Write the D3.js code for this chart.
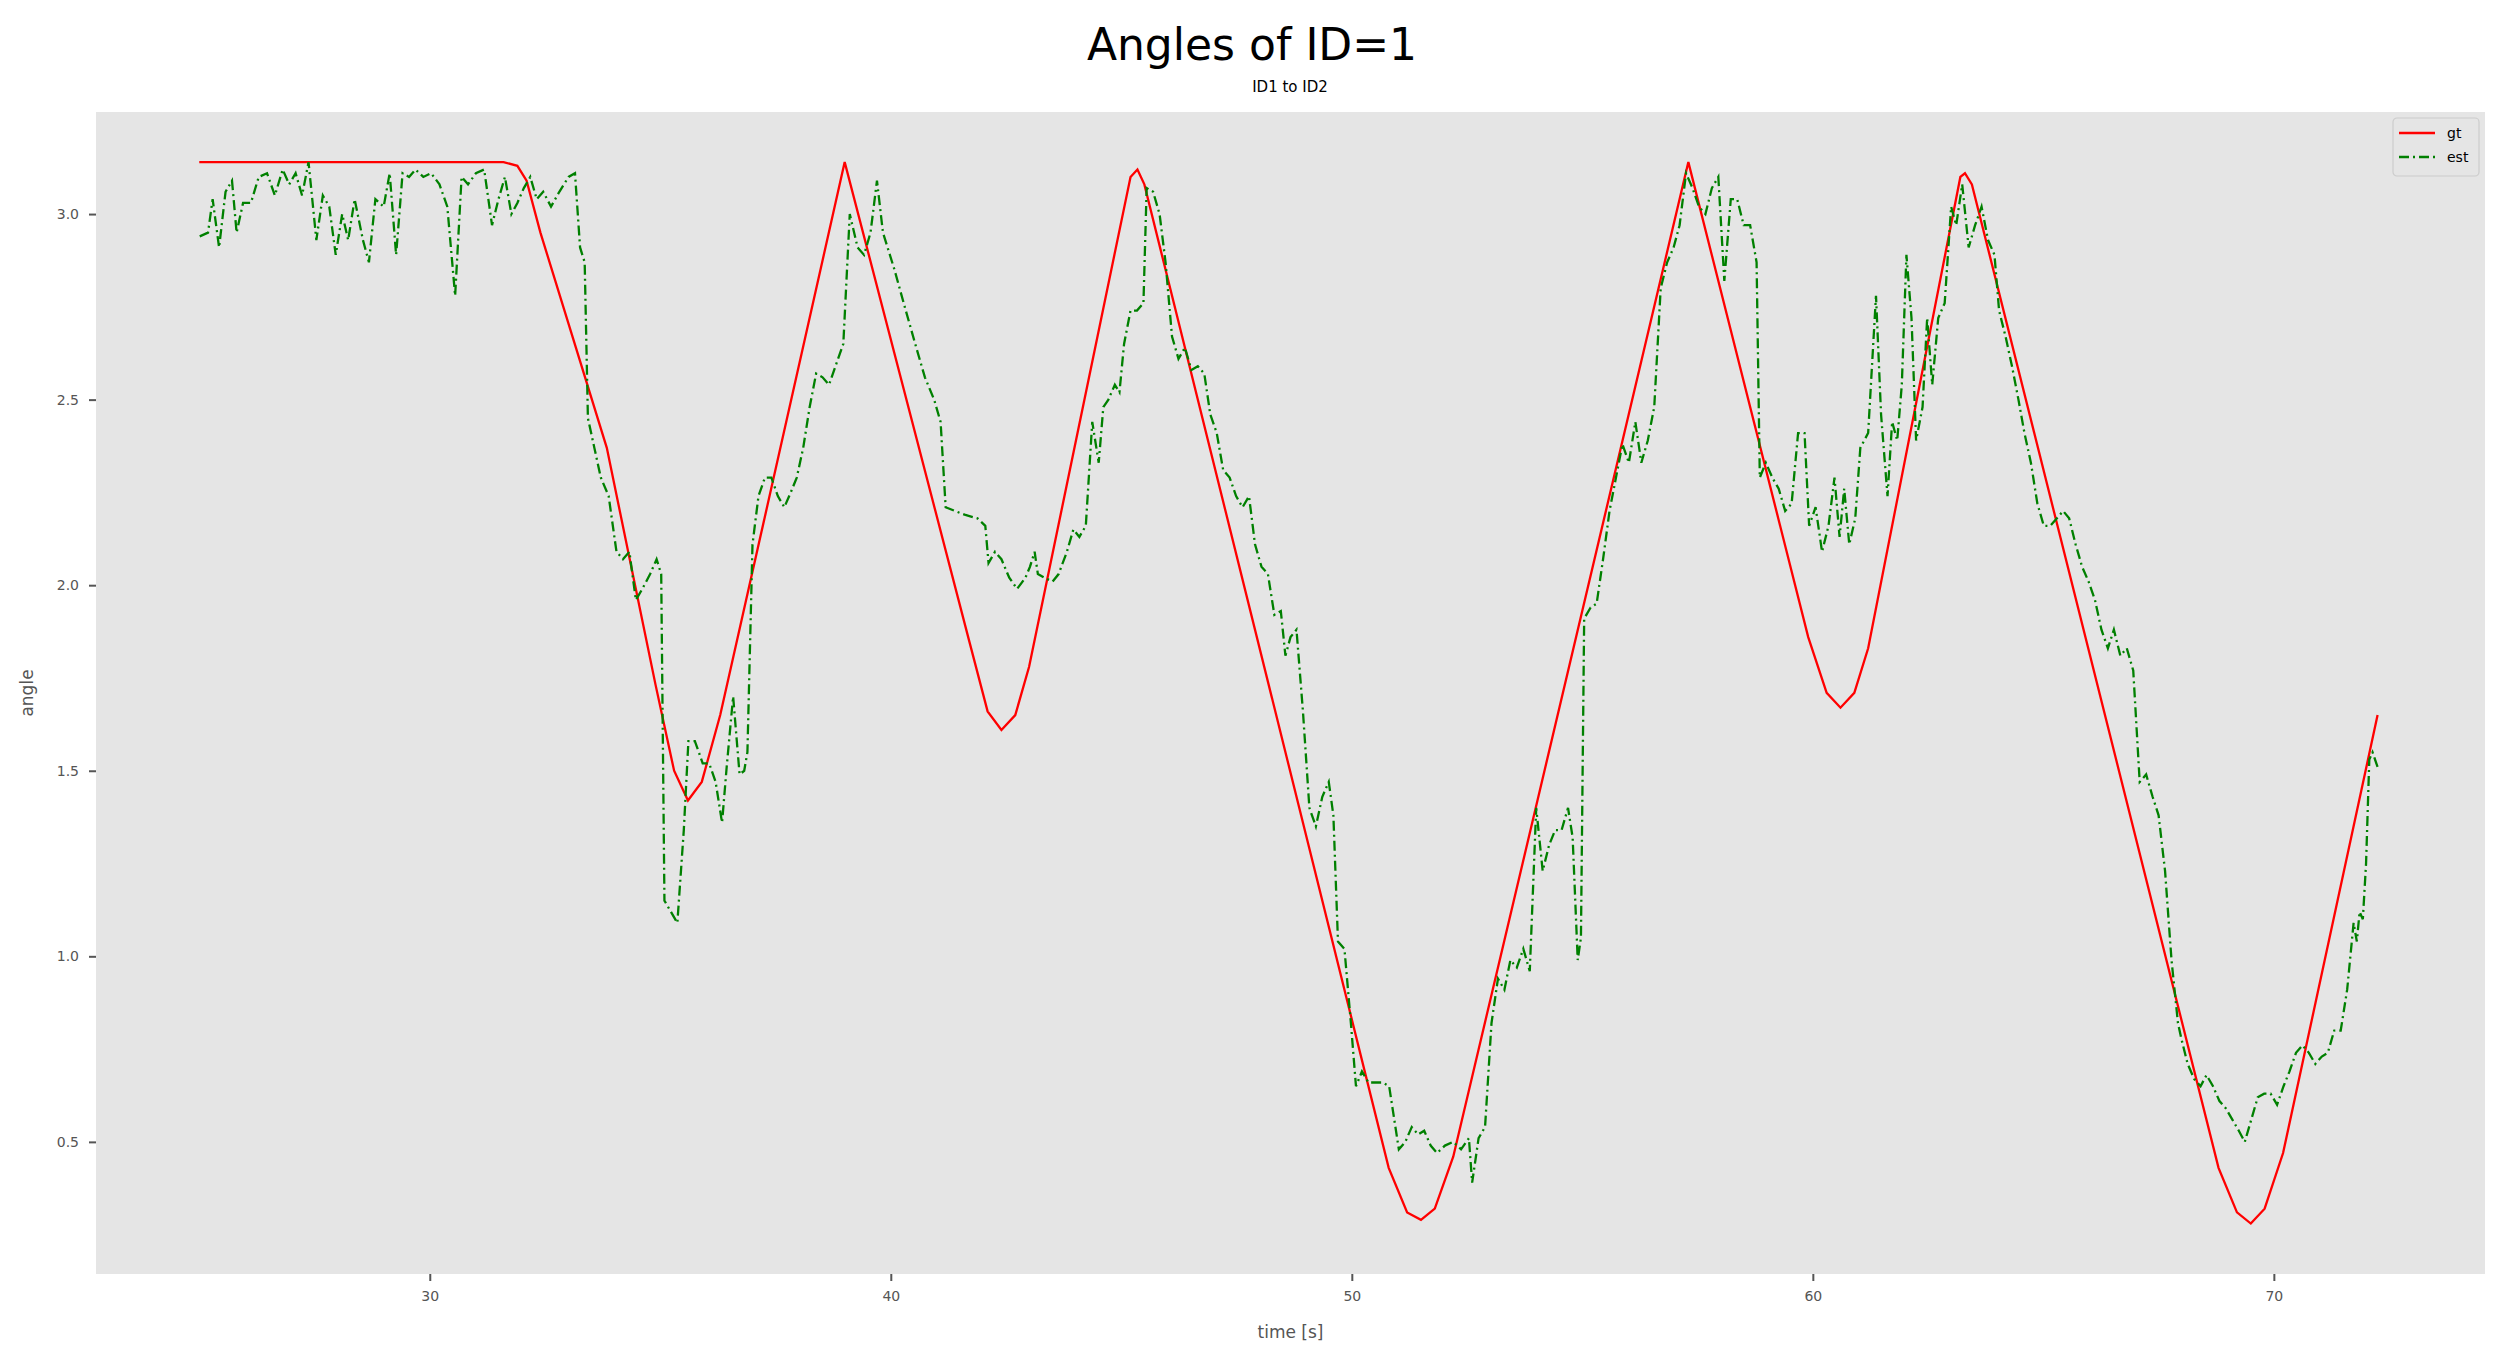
<!DOCTYPE html>
<html>
<head>
<meta charset="utf-8">
<script src="https://cdn.jsdelivr.net/npm/d3@7"></script>
<style>
  body { margin: 0; background: #fff; }
  text { font-family: "DejaVu Sans", sans-serif; }
</style>
</head>
<body>
<svg id="chart" width="2504" height="1361"></svg>
<script>
var xTicks = [30, 40, 50, 60, 70];
var yTicks = [0.5, 1.0, 1.5, 2.0, 2.5, 3.0];

// ground truth [time, angle]
var gtPoints = [
  [25.0, 3.14], [31.6, 3.14], [31.9, 3.13], [32.1, 3.09], [32.4, 2.95],
  [33.84, 2.37], [34.9, 1.73], [35.3, 1.5], [35.6, 1.42], [35.9, 1.47],
  [36.3, 1.65], [39.0, 3.14], [41.7, 1.85], [42.1, 1.66], [42.4, 1.61],
  [42.7, 1.65], [43.0, 1.78], [45.2, 3.1], [45.35, 3.12], [45.5, 3.08],
  [50.8, 0.43], [51.2, 0.31], [51.5, 0.29], [51.8, 0.32], [52.2, 0.46],
  [57.3, 3.14], [59.9, 1.86], [60.3, 1.71], [60.6, 1.67], [60.9, 1.71],
  [61.2, 1.83], [63.2, 3.1], [63.3, 3.11], [63.45, 3.08], [68.8, 0.43],
  [69.2, 0.31], [69.5, 0.28], [69.8, 0.32], [70.2, 0.47], [72.25, 1.65]
];

// estimate [time, angle]
var estPoints = [
  [25.01,2.94],[25.19,2.95],[25.29,3.04],[25.43,2.91],[25.57,3.06],[25.71,3.09],[25.81,2.95],[25.95,3.03],[26.12,3.03],[26.29,3.10],
  [26.47,3.11],[26.64,3.05],[26.81,3.12],[26.95,3.08],[27.09,3.11],[27.23,3.05],[27.37,3.14],[27.54,2.93],[27.68,3.05],[27.82,3.02],
  [27.96,2.89],[28.10,3.00],[28.23,2.93],[28.37,3.04],[28.55,2.93],[28.68,2.87],[28.82,3.04],[29.00,3.02],[29.13,3.11],[29.27,2.89],
  [29.41,3.11],[29.55,3.10],[29.69,3.12],[29.86,3.10],[30.03,3.11],[30.21,3.08],[30.38,3.02],[30.55,2.78],[30.69,3.10],[30.83,3.08],
  [31.00,3.11],[31.18,3.12],[31.35,2.97],[31.49,3.04],[31.63,3.10],[31.77,3.00],[31.90,3.03],[32.04,3.07],[32.18,3.10],[32.32,3.04],
  [32.46,3.06],[32.63,3.02],[32.81,3.06],[33.01,3.10],[33.15,3.11],[33.26,2.91],[33.36,2.87],[33.43,2.45],[33.57,2.37],[33.71,2.29],
  [33.88,2.24],[34.05,2.09],[34.19,2.07],[34.33,2.09],[34.47,1.96],[34.61,1.99],[34.78,2.03],[34.92,2.07],[35.02,2.03],[35.09,1.15],
  [35.23,1.12],[35.37,1.09],[35.51,1.34],[35.61,1.58],[35.75,1.58],[35.92,1.52],[36.06,1.52],[36.20,1.47],[36.34,1.36],[36.44,1.51],
  [36.58,1.70],[36.72,1.49],[36.82,1.50],[36.89,1.55],[37.00,2.11],[37.13,2.24],[37.27,2.29],[37.41,2.29],[37.55,2.24],[37.69,2.21],
  [37.83,2.25],[37.96,2.29],[38.10,2.37],[38.24,2.48],[38.38,2.57],[38.52,2.56],[38.66,2.54],[38.80,2.59],[38.97,2.65],[39.11,3.00],
  [39.28,2.91],[39.42,2.89],[39.56,2.95],[39.70,3.09],[39.83,2.95],[40.08,2.85],[40.28,2.76],[40.53,2.65],[40.74,2.56],[40.94,2.50],
  [41.08,2.44],[41.19,2.21],[41.39,2.20],[41.60,2.19],[41.88,2.18],[42.05,2.16],[42.12,2.06],[42.26,2.09],[42.40,2.07],[42.57,2.02],
  [42.74,1.99],[42.92,2.02],[43.02,2.05],[43.12,2.09],[43.19,2.03],[43.33,2.02],[43.51,2.01],[43.64,2.03],[43.82,2.09],[43.96,2.15],
  [44.09,2.13],[44.23,2.16],[44.37,2.44],[44.51,2.33],[44.61,2.48],[44.72,2.50],[44.86,2.54],[44.96,2.52],[45.06,2.65],[45.20,2.74],
  [45.34,2.74],[45.48,2.76],[45.55,3.07],[45.69,3.06],[45.83,3.00],[45.96,2.87],[46.10,2.67],[46.24,2.61],[46.38,2.64],[46.52,2.58],
  [46.66,2.59],[46.80,2.57],[46.93,2.46],[47.07,2.41],[47.21,2.31],[47.35,2.29],[47.49,2.24],[47.63,2.21],[47.77,2.24],[47.90,2.11],
  [48.04,2.05],[48.18,2.03],[48.32,1.92],[48.46,1.93],[48.56,1.81],[48.67,1.86],[48.80,1.88],[48.94,1.66],[49.08,1.40],[49.22,1.35],
  [49.36,1.43],[49.50,1.47],[49.60,1.38],[49.70,1.04],[49.84,1.02],[49.98,0.82],[50.09,0.65],[50.22,0.69],[50.36,0.66],[50.54,0.66],
  [50.67,0.66],[50.81,0.65],[51.02,0.48],[51.16,0.50],[51.30,0.54],[51.44,0.52],[51.57,0.53],[51.71,0.49],[51.85,0.47],[52.02,0.49],
  [52.20,0.50],[52.37,0.48],[52.54,0.51],[52.61,0.39],[52.75,0.51],[52.89,0.54],[53.03,0.82],[53.17,0.94],[53.31,0.91],[53.44,0.99],
  [53.58,0.97],[53.72,1.02],[53.86,0.96],[54.00,1.40],[54.14,1.23],[54.28,1.30],[54.41,1.34],[54.55,1.34],[54.69,1.40],[54.79,1.32],
  [54.90,0.99],[54.97,1.05],[55.04,1.91],[55.18,1.94],[55.31,1.95],[55.45,2.07],[55.59,2.20],[55.73,2.29],[55.87,2.38],[56.01,2.33],
  [56.15,2.44],[56.28,2.33],[56.42,2.39],[56.56,2.48],[56.70,2.80],[56.84,2.87],[56.98,2.91],[57.11,2.97],[57.25,3.11],[57.39,3.07],
  [57.53,3.02],[57.67,3.00],[57.81,3.07],[57.95,3.10],[58.08,2.82],[58.22,3.04],[58.36,3.04],[58.50,2.97],[58.64,2.97],[58.78,2.87],
  [58.85,2.29],[58.98,2.33],[59.12,2.29],[59.26,2.26],[59.40,2.20],[59.54,2.22],[59.68,2.41],[59.82,2.41],[59.92,2.16],[60.06,2.21],
  [60.20,2.09],[60.34,2.16],[60.47,2.29],[60.58,2.13],[60.68,2.26],[60.79,2.11],[60.92,2.18],[61.03,2.37],[61.20,2.41],[61.37,2.78],
  [61.48,2.46],[61.62,2.24],[61.72,2.44],[61.83,2.39],[61.93,2.54],[62.03,2.89],[62.14,2.72],[62.24,2.39],[62.38,2.48],[62.48,2.72],
  [62.59,2.54],[62.72,2.72],[62.86,2.76],[63.00,3.02],[63.11,2.97],[63.24,3.08],[63.38,2.91],[63.52,2.97],[63.66,3.02],[63.80,2.93],
  [63.94,2.89],[64.04,2.74],[64.18,2.67],[64.32,2.59],[64.46,2.50],[64.59,2.41],[64.73,2.33],[64.87,2.22],[65.01,2.16],[65.15,2.16],
  [65.29,2.18],[65.43,2.20],[65.56,2.18],[65.70,2.11],[65.84,2.05],[65.98,2.01],[66.12,1.96],[66.26,1.88],[66.40,1.83],[66.53,1.88],
  [66.67,1.81],[66.81,1.83],[66.95,1.77],[67.09,1.47],[67.23,1.49],[67.37,1.43],[67.50,1.38],[67.64,1.23],[67.78,0.99],[67.92,0.82],
  [67.99,0.78],[68.13,0.71],[68.27,0.67],[68.41,0.65],[68.54,0.68],[68.68,0.65],[68.82,0.61],[68.96,0.59],[69.10,0.56],[69.24,0.53],
  [69.37,0.50],[69.51,0.56],[69.65,0.62],[69.79,0.63],[69.93,0.63],[70.07,0.60],[70.21,0.65],[70.34,0.69],[70.48,0.74],[70.62,0.76],
  [70.76,0.74],[70.90,0.71],[71.04,0.73],[71.17,0.74],[71.31,0.80],[71.45,0.80],[71.59,0.91],[71.73,1.09],[71.80,1.04],[71.86,1.12],
  [71.93,1.10],[72.00,1.25],[72.07,1.53],[72.14,1.55],[72.25,1.51]
];

var svg = d3.select('#chart');
var plotLeft = 96, plotRight = 2485, plotTop = 112, plotBottom = 1274;

var x = d3.scaleLinear().domain([22.76, 74.58]).range([plotLeft, plotRight]);
var y = d3.scaleLinear().domain([0.144, 3.275]).range([plotBottom, plotTop]);

svg.append('rect')
  .attr('x', plotLeft).attr('y', plotTop)
  .attr('width', plotRight - plotLeft).attr('height', plotBottom - plotTop)
  .attr('fill', '#e5e5e5');

var xAxis = svg.append('g')
  .attr('transform', 'translate(0,' + plotBottom + ')')
  .call(d3.axisBottom(x).tickValues(xTicks).tickFormat(d3.format('d')).tickSize(7).tickPadding(10));
var yAxis = svg.append('g')
  .attr('transform', 'translate(' + plotLeft + ',0)')
  .call(d3.axisLeft(y).tickValues(yTicks).tickFormat(d3.format('.1f')).tickSize(7).tickPadding(10));

[xAxis, yAxis].forEach(function(g) {
  g.select('.domain').remove();
  g.selectAll('line').attr('stroke', '#555').attr('stroke-width', 2);
  g.selectAll('text').attr('fill', '#555').style('font-size', '14px')
    .style('font-family', '"DejaVu Sans", sans-serif');
});

var line = d3.line()
  .x(function(d) { return x(d[0]); })
  .y(function(d) { return y(d[1]); });

svg.append('path').datum(gtPoints)
  .attr('d', line).attr('fill', 'none')
  .attr('stroke', 'red').attr('stroke-width', 2.3);

svg.append('path').datum(estPoints)
  .attr('d', line).attr('fill', 'none')
  .attr('stroke', 'green').attr('stroke-width', 2.3)
  .attr('stroke-dasharray', '10,4,2,4');

// titles
svg.append('text').attr('x', 1252).attr('y', 60)
  .attr('text-anchor', 'middle').style('font-size', '44px').attr('fill', '#000')
  .text('Angles of ID=1');
svg.append('text').attr('x', 1290).attr('y', 92)
  .attr('text-anchor', 'middle').style('font-size', '15px').attr('fill', '#000')
  .text('ID1 to ID2');

svg.append('text').attr('x', (plotLeft + plotRight) / 2).attr('y', 1338)
  .attr('text-anchor', 'middle').style('font-size', '17px').attr('fill', '#555')
  .text('time [s]');
svg.append('text')
  .attr('transform', 'translate(33,' + ((plotTop + plotBottom) / 2) + ') rotate(-90)')
  .attr('text-anchor', 'middle').style('font-size', '17px').attr('fill', '#555')
  .text('angle');

// legend
var lg = svg.append('g').attr('transform', 'translate(2393,118)');
lg.append('rect').attr('width', 86).attr('height', 58).attr('rx', 4)
  .attr('fill', '#e5e5e5').attr('stroke', '#cccccc').attr('stroke-width', 1.2);
var items = [
  { name: 'gt', color: 'red', dash: null },
  { name: 'est', color: 'green', dash: '10,4,2,4' }
];
items.forEach(function(d, i) {
  var yy = 15 + i * 24;
  lg.append('line').attr('x1', 6).attr('x2', 42).attr('y1', yy).attr('y2', yy)
    .attr('stroke', d.color).attr('stroke-width', 2.3)
    .attr('stroke-dasharray', d.dash);
  lg.append('text').attr('x', 54).attr('y', yy + 5)
    .style('font-size', '14px').attr('fill', '#000').text(d.name);
});
</script>
</body>
</html>
